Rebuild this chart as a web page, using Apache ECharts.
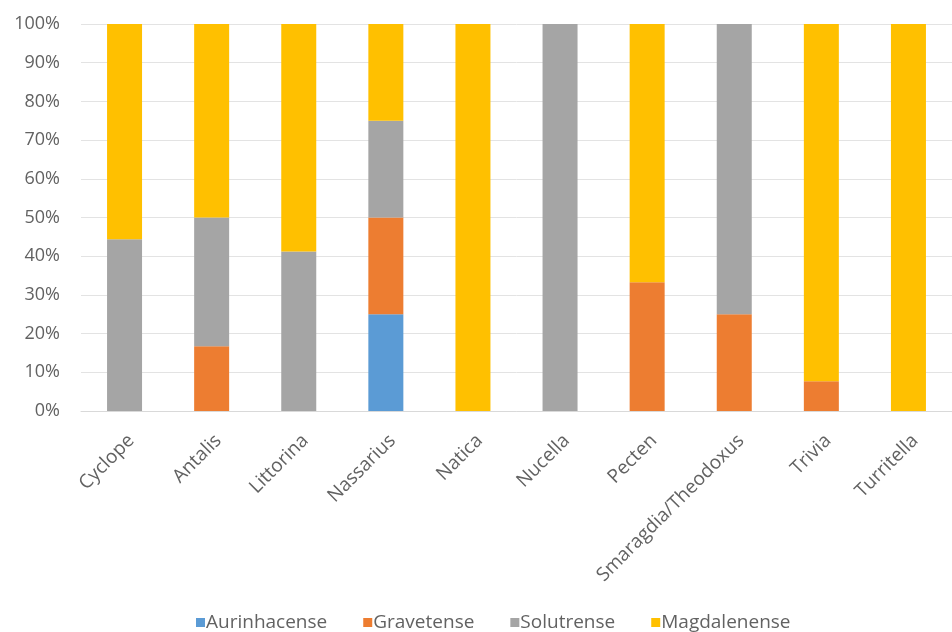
<!DOCTYPE html>
<html>
<head>
<meta charset="utf-8">
<script src="https://cdn.jsdelivr.net/npm/echarts@6/dist/echarts.min.js"></script>
<style>html,body{margin:0;padding:0;background:#fff}#c{width:952px;height:632px}</style>
</head>
<body>
<div id="c"></div>
<script>
const categories = ['Cyclope','Antalis','Littorina','Nassarius','Natica','Nucella','Pecten','Smaragdia/Theodoxus','Trivia','Turritella'];
const aurinhacense = [0, 0, 0, 25, 0, 0, 0, 0, 0, 0];
const gravetense   = [0, 16.7, 0, 25, 0, 0, 33.3, 25, 7.7, 0];
const solutrense   = [44.4, 33.3, 41.2, 25, 0, 100, 0, 75, 0, 0];
const magdalenense = [55.6, 50, 58.8, 25, 100, 0, 66.7, 0, 92.3, 100];
const yTicks = [0,10,20,30,40,50,60,70,80,90,100];

const font = 'Open Sans';
const txt = '#626262';
const chart = echarts.init(document.getElementById('c'), null, {renderer:'canvas'});
const mk = (name, data, color) => ({
  name, type:'bar', stack:'total', data, barWidth:35,
  itemStyle:{color}, emphasis:{disabled:true}
});
chart.setOption({
  animation:false,
  textStyle:{fontFamily:font},
  grid:{left:81, right:-7.5, top:24, bottom:221, containLabel:false},
  legend:{
    top:608, left:191, itemWidth:9, itemHeight:9, itemGap:36,
    icon:'rect',
    textStyle:{color:txt, fontSize:19, fontFamily:font, padding:[0,0,0,-4]},
    data:['Aurinhacense','Gravetense','Solutrense','Magdalenense']
  },
  xAxis:{
    type:'category', data:categories,
    axisLine:{lineStyle:{color:'#d9d9d9', width:1}},
    axisTick:{show:false},
    axisLabel:{rotate:45, color:txt, fontSize:19, fontFamily:font, margin:20, interval:0, verticalAlign:'top'}
  },
  yAxis:{
    type:'value', min:yTicks[0], max:yTicks[yTicks.length-1], interval:10,
    axisLine:{show:false}, axisTick:{show:false},
    splitLine:{lineStyle:{color:'#e3e3e3', width:1}},
    axisLabel:{formatter:'{value}%', color:txt, fontSize:18, fontFamily:font, margin:21}
  },
  series:[
    mk('Aurinhacense', aurinhacense, '#5B9BD5'),
    mk('Gravetense', gravetense, '#ED7D31'),
    mk('Solutrense', solutrense, '#A5A5A5'),
    mk('Magdalenense', magdalenense, '#FFC000')
  ]
});
</script>
</body>
</html>
